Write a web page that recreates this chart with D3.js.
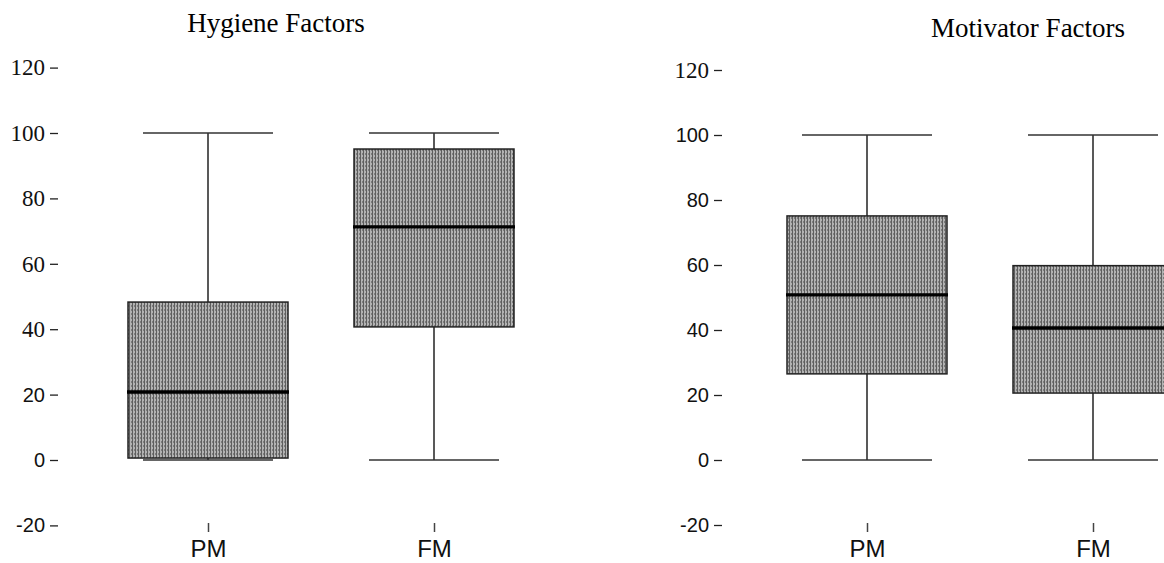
<!DOCTYPE html>
<html>
<head>
<meta charset="utf-8">
<script src="https://cdn.jsdelivr.net/npm/d3@7"></script>
<style>
  body { margin: 0; background: #fff; }
  svg { display: block; }
</style>
</head>
<body>
<div id="chart"></div>
<script>
// Data
const categories = ["PM", "FM"];
const yTicks = [-20, 0, 20, 40, 60, 80, 100, 120];

const hygieneMin = [0, 0];
const hygieneQ1 = [0.6, 40.7];
const hygieneMedian = [20.8, 71.3];
const hygieneQ3 = [48.3, 95.1];
const hygieneMax = [100, 100];

const motivatorMin = [0, 0];
const motivatorQ1 = [26.5, 20.6];
const motivatorMedian = [50.8, 40.6];
const motivatorQ3 = [75.1, 59.8];
const motivatorMax = [100, 100];

const width = 1164, height = 563;
const boxWidth = 160, capWidth = 130;
const SERIF = "'Liberation Serif', 'Times New Roman', serif";
const SANS = "'Liberation Sans', Arial, sans-serif";

const svg = d3.select("#chart")
    .append("svg")
    .attr("width", width)
    .attr("height", height);

// stippled grey fill like the scanned boxes
const pattern = svg.append("defs").append("pattern")
    .attr("id", "stipple")
    .attr("patternUnits", "userSpaceOnUse")
    .attr("width", 3)
    .attr("height", 4);
pattern.append("rect").attr("width", 3).attr("height", 4).attr("fill", "#b2b2b2");
pattern.append("rect").attr("width", 1).attr("height", 4).attr("fill", "#5e5e5e");
pattern.append("rect").attr("x", 2).attr("y", 1).attr("width", 1).attr("height", 2).attr("fill", "#7c7c7c");

function drawPanel(cfg) {
    const rows = categories.map((c, i) => ({
        cat: c, min: cfg.min[i], q1: cfg.q1[i], median: cfg.median[i], q3: cfg.q3[i], max: cfg.max[i]
    }));

    const y = d3.scaleLinear().domain([-20, 120]).range(cfg.yRange);
    const x = d3.scalePoint().domain(categories).range(cfg.xRange);

    const g = svg.append("g");

    // title
    g.append("text")
        .attr("x", cfg.titleX)
        .attr("y", cfg.titleY)
        .attr("text-anchor", "middle")
        .attr("font-family", SERIF)
        .attr("font-size", 27)
        .text(cfg.title);

    // y axis, ticks only
    const yAxis = g.append("g")
        .attr("transform", `translate(${cfg.axisX},0)`)
        .call(d3.axisLeft(y).tickValues(yTicks).tickSize(8).tickPadding(5).tickFormat(d => String(d)));
    yAxis.attr("font-family", null).attr("font-size", null);
    yAxis.select(".domain").remove();
    yAxis.selectAll(".tick line").attr("stroke", "#222").attr("stroke-width", 1.3);
    yAxis.selectAll(".tick text").each(function(d) {
        const serif = cfg.serifTick(d);
        d3.select(this)
            .attr("fill", "#111")
            .attr("font-family", serif ? SERIF : SANS)
            .attr("font-size", serif ? 23 : 20);
    });

    // x axis, ticks only
    const xAxis = g.append("g")
        .attr("transform", "translate(0,523)")
        .call(d3.axisBottom(x).tickSize(9).tickPadding(8));
    xAxis.attr("font-family", SANS).attr("font-size", 24);
    xAxis.select(".domain").remove();
    xAxis.selectAll(".tick line").attr("stroke", "#444").attr("stroke-width", 1.5);
    xAxis.selectAll(".tick text")
        .attr("fill", "#111")
        .attr("dy", "0.72em");

    const box = g.selectAll(".box")
        .data(rows)
        .join("g")
        .attr("class", "box");

    // whiskers
    box.append("line")
        .attr("x1", d => x(d.cat)).attr("x2", d => x(d.cat))
        .attr("y1", d => y(d.max)).attr("y2", d => y(d.q3))
        .attr("stroke", "#222").attr("stroke-width", 1.5);
    box.append("line")
        .attr("x1", d => x(d.cat)).attr("x2", d => x(d.cat))
        .attr("y1", d => y(d.q1)).attr("y2", d => y(d.min))
        .attr("stroke", "#222").attr("stroke-width", 1.5);

    // caps
    box.append("line")
        .attr("x1", d => x(d.cat) - capWidth / 2).attr("x2", d => x(d.cat) + capWidth / 2)
        .attr("y1", d => y(d.max)).attr("y2", d => y(d.max))
        .attr("stroke", "#333").attr("stroke-width", 1.5);
    box.append("line")
        .attr("x1", d => x(d.cat) - capWidth / 2).attr("x2", d => x(d.cat) + capWidth / 2)
        .attr("y1", d => y(d.min)).attr("y2", d => y(d.min))
        .attr("stroke", "#333").attr("stroke-width", 1.5);

    // boxes
    box.append("rect")
        .attr("x", d => x(d.cat) - boxWidth / 2)
        .attr("width", boxWidth)
        .attr("y", d => y(d.q3))
        .attr("height", d => y(d.q1) - y(d.q3))
        .attr("fill", "url(#stipple)")
        .attr("stroke", "#222")
        .attr("stroke-width", 1.5);

    // medians
    box.append("line")
        .attr("x1", d => x(d.cat) - boxWidth / 2 - 1).attr("x2", d => x(d.cat) + boxWidth / 2 + 1)
        .attr("y1", d => y(d.median)).attr("y2", d => y(d.median))
        .attr("stroke", "#000").attr("stroke-width", 3.4);
}

drawPanel({
    title: "Hygiene Factors", titleX: 276, titleY: 32,
    min: hygieneMin, q1: hygieneQ1, median: hygieneMedian, q3: hygieneQ3, max: hygieneMax,
    yRange: [525.4, 67.6], xRange: [208, 434], axisX: 58,
    serifTick: d => d >= 40
});

drawPanel({
    title: "Motivator Factors", titleX: 1028, titleY: 37,
    min: motivatorMin, q1: motivatorQ1, median: motivatorMedian, q3: motivatorQ3, max: motivatorMax,
    yRange: [525, 70], xRange: [867, 1093], axisX: 722,
    serifTick: d => d === 120
});
</script>
</body>
</html>
